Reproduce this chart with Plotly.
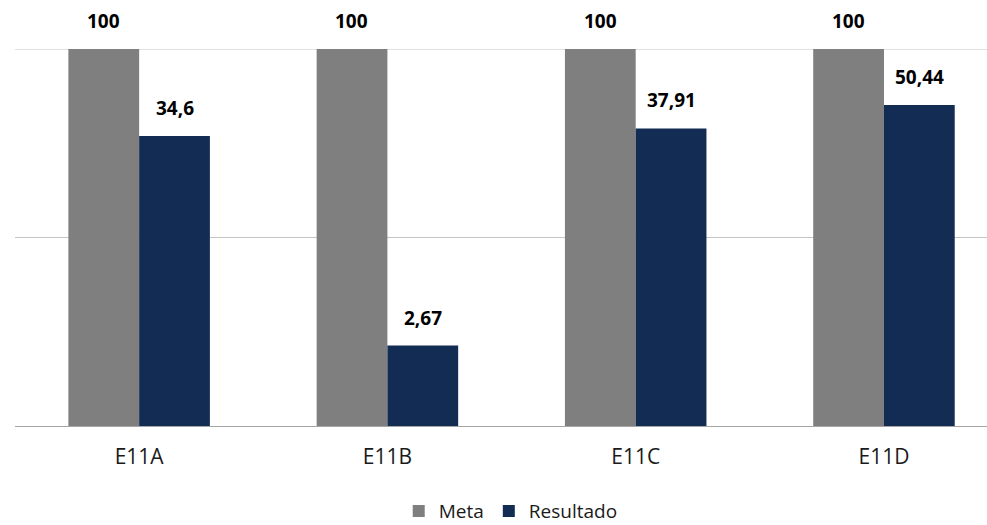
import math
import plotly.graph_objects as go

categories = ["E11A", "E11B", "E11C", "E11D"]
meta = [100, 100, 100, 100]
resultado = [34.6, 2.67, 37.91, 50.44]
meta_labels = ["100", "100", "100", "100"]
resultado_labels = ["34,6", "2,67", "37,91", "50,44"]

GREY = "#7F7F7F"
NAVY = "#132C54"
FONT = "Open Sans, Liberation Sans, sans-serif"

fig = go.Figure()
fig.add_trace(go.Bar(name="Meta", x=categories, y=meta, marker=dict(color=GREY, line=dict(width=0))))
fig.add_trace(go.Bar(name="Resultado", x=categories, y=resultado, marker=dict(color=NAVY, line=dict(width=0))))

annotations = []
for cat, v, lab in zip(categories, meta, meta_labels):
    annotations.append(dict(x=cat, y=math.log10(v), text=lab, xref="x", yref="y",
                            showarrow=False, xshift=-35.5, yshift=13, yanchor="bottom",
                            font=dict(family=FONT, size=19, color="#000000", weight="bold")))
for cat, v, lab in zip(categories, resultado, resultado_labels):
    annotations.append(dict(x=cat, y=math.log10(v), text=lab, xref="x", yref="y",
                            showarrow=False, xshift=35.5, yshift=13, yanchor="bottom",
                            font=dict(family=FONT, size=19, color="#000000", weight="bold")))

# top gridline (value 100 on the log axis)
fig.add_shape(type="line", xref="paper", x0=0, x1=1, yref="y", y0=max(meta),
              y1=max(meta), line=dict(color="#C4C4C4", width=1), layer="below")

fig.update_layout(
    width=987, height=525,
    margin=dict(l=15, r=0, t=49, b=99, autoexpand=False),
    paper_bgcolor="white", plot_bgcolor="white",
    barmode="group", bargap=0.43, bargroupgap=0,
    font=dict(family=FONT, size=20, color="#1A1A1A"),
    showlegend=True,
    legend=dict(orientation="h", x=0.51, xanchor="center", y=-0.226, yanchor="middle",
                font=dict(family=FONT, size=19, color="#1A1A1A"),
                traceorder="normal"),
    annotations=annotations,
    xaxis=dict(type="category", range=[-0.5, 3.415], showgrid=False, showline=True,
               linecolor="#A6A6A6", linewidth=1, ticks="", ticklabelstandoff=12,
               tickfont=dict(family=FONT, size=21, color="#1A1A1A")),
    yaxis=dict(type="log", range=[0, 2], showgrid=True, gridcolor="#C4C4C4", gridwidth=1,
               showticklabels=False, zeroline=False, ticks="", dtick=1),
)

fig.write_html("out.html", config={"displayModeBar": False},
               post_script="document.body.style.margin='0';document.body.style.overflow='hidden';")
